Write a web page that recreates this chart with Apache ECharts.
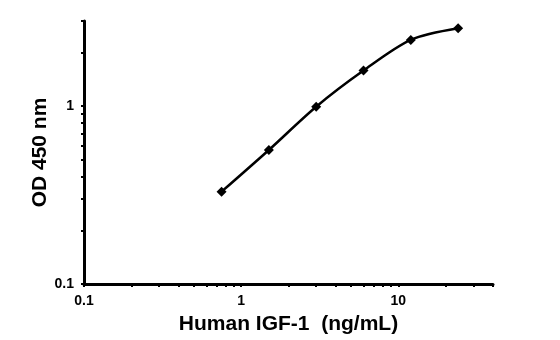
<!DOCTYPE html>
<html>
<head>
<meta charset="utf-8">
<script src="https://cdn.jsdelivr.net/npm/echarts@6/dist/echarts.min.js"></script>
<style>html,body{margin:0;padding:0;background:#fff}#c{width:560px;height:340px}</style>
</head>
<body>
<div id="c"></div>
<script>
const concentrations = [0.75, 1.5, 3, 6, 12, 24];
const odValues = [0.33, 0.566, 0.99, 1.58, 2.35, 2.73];
const xLabelValues = [0.1, 1, 10];
const yLabelValues = [0.1, 1];
const xTickValues = [0.1,0.2,0.3,0.4,0.5,0.6,0.7,0.8,0.9,1,2,3,4,5,6,7,8,9,10,20,30,40];
const yTickValues = [0.1,0.2,0.3,0.4,0.5,0.6,0.7,0.8,0.9,1,2,3];
const xTitle = 'Human IGF-1  (ng/mL)';
const yTitle = 'OD 450 nm';

const font = "'Liberation Sans', Arial, sans-serif";
const chart = echarts.init(document.getElementById('c'), null, {renderer: 'canvas'});
chart.setOption({
  animation: false,
  backgroundColor: '#fff',
  grid: {left: 84, right: 67, top: 21, bottom: 56, containLabel: false},
  xAxis: {
    type: 'log', logBase: 10, min: 0.1, max: 40,
    name: xTitle, nameLocation: 'middle', nameGap: 30, nameMoveOverlap: false,
    nameTextStyle: {fontFamily: font, fontWeight: 'bold', fontSize: 21, color: '#000'},
    axisLine: {show: true, lineStyle: {color: '#000', width: 3}},
    axisTick: {show: true, customValues: xTickValues, length: 3, lineStyle: {color: '#000', width: 2}},
    axisLabel: {customValues: xLabelValues, margin: 10, fontFamily: font, fontWeight: 'bold', fontSize: 14, color: '#000',
      formatter: v => String(v)},
    splitLine: {show: false}, minorTick: {show: false}
  },
  yAxis: {
    type: 'log', logBase: 10, min: 0.1, max: 3,
    name: yTitle, nameLocation: 'middle', nameGap: 33, nameRotate: 90, nameMoveOverlap: false,
    nameTextStyle: {fontFamily: font, fontWeight: 'bold', fontSize: 21, color: '#000'},
    axisLine: {show: true, lineStyle: {color: '#000', width: 3}},
    axisTick: {show: true, customValues: yTickValues, length: 3, lineStyle: {color: '#000', width: 2}},
    axisLabel: {customValues: yLabelValues, margin: 10, fontFamily: font, fontWeight: 'bold', fontSize: 14, color: '#000',
      formatter: v => String(v)},
    splitLine: {show: false}
  },
  series: [{
    type: 'line',
    data: concentrations.map((x, i) => [x, odValues[i]]),
    smooth: 0.3,
    symbol: 'diamond', symbolSize: 10,
    itemStyle: {color: '#000'},
    lineStyle: {color: '#000', width: 2.5}
  }]
});
</script>
</body>
</html>
